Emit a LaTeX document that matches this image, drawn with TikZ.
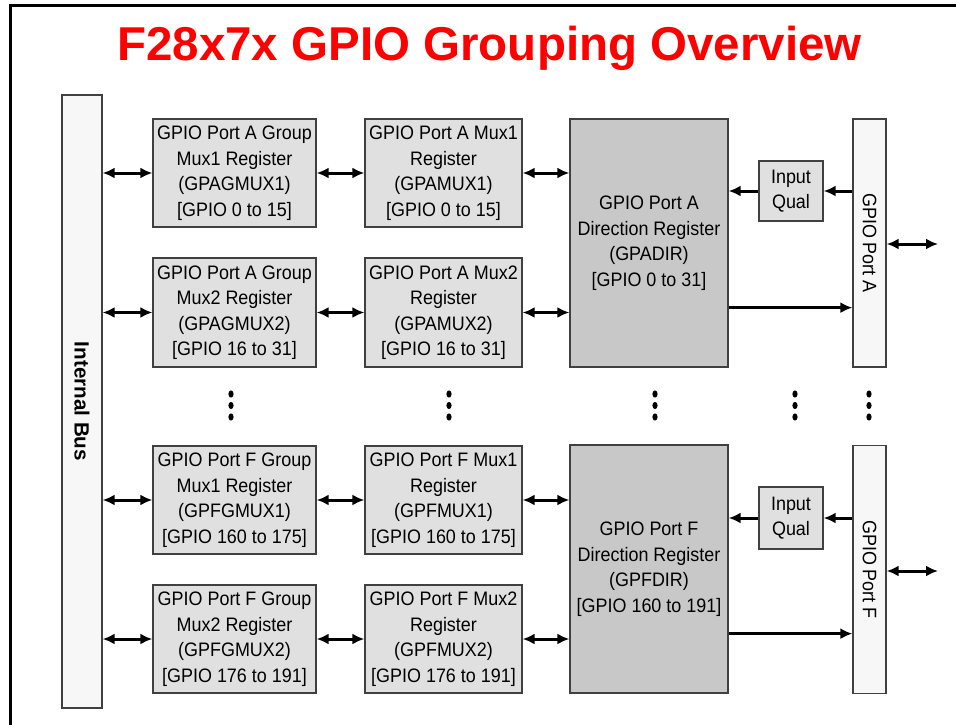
\documentclass[tikz,border=0pt]{standalone}
\usepackage{fontspec}
\setmainfont{Liberation Sans}
\newfontfamily\regfont{Liberation Sans}[FakeStretch=0.92]
\usetikzlibrary{arrows.meta}
\definecolor{boxgray}{HTML}{E0E0E0}
\definecolor{dirgray}{HTML}{C8C8C8}
\definecolor{pale}{HTML}{F7F7F7}
\definecolor{edge}{HTML}{404040}
\begin{document}
\begin{tikzpicture}[x=1pt,y=-1pt,
  >={Latex[length=12pt,width=11pt]},
  regbox/.style={draw=edge,line width=1.3pt,fill=boxgray,align=center,inner sep=0pt,
     font=\regfont\fontsize{19.5}{25.5}\selectfont},
  dirbox/.style={regbox,fill=dirgray},
  barbox/.style={draw=edge,line width=1.3pt,fill=pale,inner sep=0pt,rotate=-90},
  conn/.style={line width=3pt,<->},
  oneway/.style={line width=3pt,->},
  dotmark/.style={fill=black}]
\useasboundingbox (0,0) rectangle (956,725);
\draw[line width=3pt] (10,725) -- (10,6) -- (956,6);
\node[anchor=base,text=red,font=\fontsize{47.5}{50}\selectfont\bfseries] (title) at (489.5,60) {F28x7x GPIO Grouping Overview};
% internal bus
\node[barbox,minimum width=613,minimum height=40,font=\fontsize{20.6}{24}\selectfont\bfseries] (bus) at (82,401.5) {Internal Bus};
% group mux registers
\node[regbox,minimum width=163,minimum height=108] (ga1) at (234.5,173) {GPIO Port A Group\\Mux1 Register\\(GPAGMUX1)\\{[GPIO 0 to 15]}};
\node[regbox,minimum width=163,minimum height=109] (ga2) at (234.5,312.5) {GPIO Port A Group\\Mux2 Register\\(GPAGMUX2)\\{[GPIO 16 to 31]}};
\node[regbox,minimum width=163,minimum height=108] (gf1) at (234.5,500) {GPIO Port F Group\\Mux1 Register\\(GPFGMUX1)\\{[GPIO 160 to 175]}};
\node[regbox,minimum width=163,minimum height=108] (gf2) at (234.5,639) {GPIO Port F Group\\Mux2 Register\\(GPFGMUX2)\\{[GPIO 176 to 191]}};
% mux registers
\node[regbox,minimum width=157,minimum height=108] (ma1) at (443.5,173) {GPIO Port A Mux1\\Register\\(GPAMUX1)\\{[GPIO 0 to 15]}};
\node[regbox,minimum width=157,minimum height=109] (ma2) at (443.5,312.5) {GPIO Port A Mux2\\Register\\(GPAMUX2)\\{[GPIO 16 to 31]}};
\node[regbox,minimum width=157,minimum height=108] (mf1) at (443.5,500) {GPIO Port F Mux1\\Register\\(GPFMUX1)\\{[GPIO 160 to 175]}};
\node[regbox,minimum width=157,minimum height=108] (mf2) at (443.5,639) {GPIO Port F Mux2\\Register\\(GPFMUX2)\\{[GPIO 176 to 191]}};
% direction registers
\node[dirbox,minimum width=158,minimum height=248] (da) at (649,243) {GPIO Port A\\Direction Register\\(GPADIR)\\{[GPIO 0 to 31]}};
\node[dirbox,minimum width=158,minimum height=248] (df) at (649,569) {GPIO Port F\\Direction Register\\(GPFDIR)\\{[GPIO 160 to 191]}};
% input qual
\node[regbox,minimum width=64,minimum height=60] (qa) at (791,191) {Input\\Qual};
\node[regbox,minimum width=64,minimum height=62] (qf) at (791,518) {Input\\Qual};
% ports
\node[barbox,minimum width=248,minimum height=33,font=\regfont\fontsize{19.5}{22}\selectfont] (pa) at (869.5,243) {GPIO Port A};
\node[barbox,minimum width=248,minimum height=33,font=\regfont\fontsize{19.5}{22}\selectfont] (pf) at (869.5,569.5) {GPIO Port F};
\coordinate (pae) at (938,244);
\coordinate (pfe) at (938,571);
% connectors
\draw[conn] (bus.north |- ga1.west) -- (ga1.west);
\draw[conn] (bus.north |- ga2.west) -- (ga2.west);
\draw[conn] (bus.north |- gf1.west) -- (gf1.west);
\draw[conn] (bus.north |- gf2.west) -- (gf2.west);
\draw[conn] (ga1.east) -- (ma1.west);
\draw[conn] (ga2.east) -- (ma2.west);
\draw[conn] (gf1.east) -- (mf1.west);
\draw[conn] (gf2.east) -- (mf2.west);
\draw[conn] (ma1.east) -- (da.west |- ma1.east);
\draw[conn] (ma2.east) -- (da.west |- ma2.east);
\draw[conn] (mf1.east) -- (df.west |- mf1.east);
\draw[conn] (mf2.east) -- (df.west |- mf2.east);
\draw[oneway] (pa.south |- qa.east) -- (qa.east);
\draw[oneway] (qa.west) -- (da.east |- qa.west);
\draw[oneway] (pf.south |- qf.east) -- (qf.east);
\draw[oneway] (qf.west) -- (df.east |- qf.west);
\draw[oneway] ([yshift=60pt]da.south east) -- ([yshift=60pt]da.south east -| pa.south);
\draw[oneway] ([yshift=60pt]df.south east) -- ([yshift=60pt]df.south east -| pf.south);
\draw[conn] (pa.north |- pae) -- (pae);
\draw[conn] (pf.north |- pfe) -- (pfe);
% continuation dots
\foreach \x in {231,449,655,795,869}{
  \foreach \y in {394,405.5,417}{
    \fill[dotmark] (\x,\y) ellipse [x radius=2.6pt,y radius=3.6pt];
  }
}
\end{tikzpicture}
\end{document}
